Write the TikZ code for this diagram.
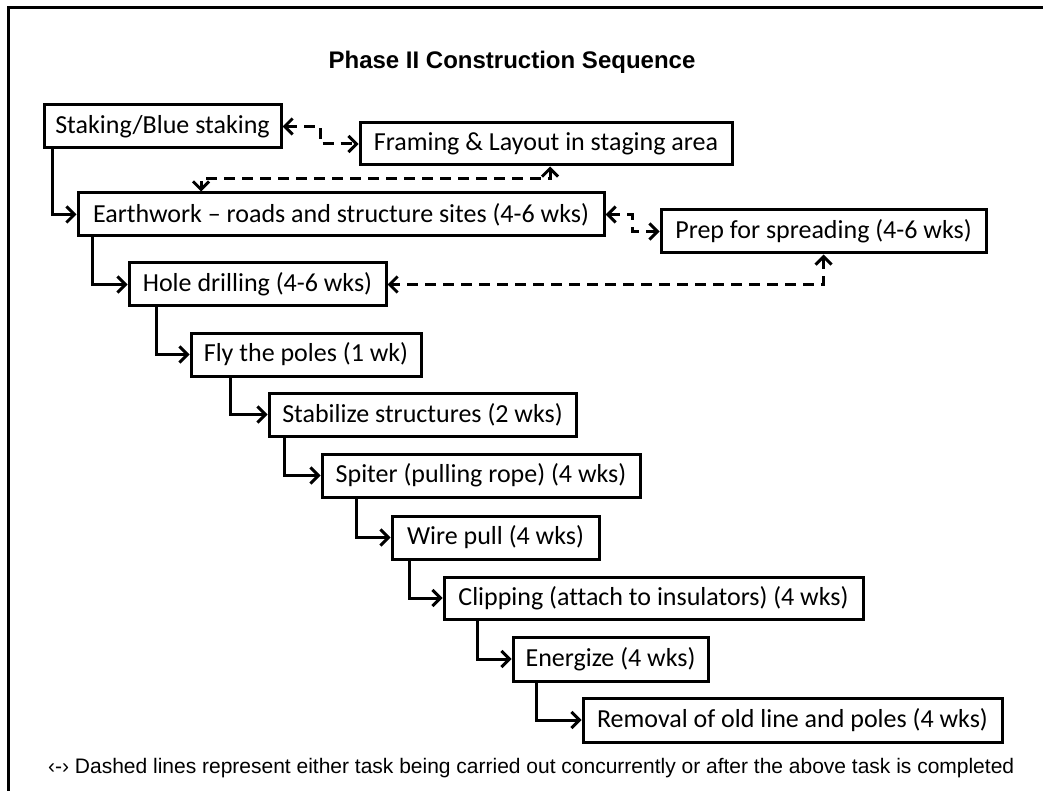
\documentclass[tikz,border=0pt]{standalone}
\usepackage{fontspec}
\setmainfont{Carlito}[Ligatures=NoCommon]
\newfontfamily\arialfont{Liberation Sans}
\usetikzlibrary{arrows.meta,calc}
\begin{document}
\begin{tikzpicture}[x=1pt,y=-1pt,
  box/.style={draw,line width=3pt,inner sep=0pt,font=\fontsize{26}{30}\selectfont},
  conn/.style={line width=3pt,-{Straight Barb[length=8pt,width=16pt]}},
  dconn/.style={line width=3pt,dash pattern=on 11pt off 7pt,{Straight Barb[length=8pt,width=16pt]}-{Straight Barb[length=8pt,width=16pt]}}]
\useasboundingbox (0,0) rectangle (1043,791);
\fill[white] (0,0) rectangle (1043,791);
\draw[line width=3pt] (1043,8) -- (8,8) -- (8,791);

\node[font=\arialfont\bfseries\fontsize{24}{28}\selectfont] (title) at (512,62) {Phase II Construction Sequence};

\node[box,minimum width=237pt,minimum height=43pt] (stak) at (162.5,126.5) {Staking/Blue staking};
\node[box,minimum width=372pt,minimum height=42pt] (fram) at (546,144) {Framing \& Layout in staging area};
\node[box,minimum width=526pt,minimum height=43pt] (earth) at (341,214.5) {Earthwork -- roads and structure sites (4-6 wks)};
\node[box,minimum width=325pt,minimum height=43pt] (prep) at (823.5,231.5) {Prep for spreading (4-6 wks)};
\node[box,minimum width=257pt,minimum height=43pt] (hole) at (257.5,284.5) {Hole drilling (4-6 wks)};
\node[box,minimum width=230pt,minimum height=43pt] (fly) at (306,354.5) {Fly the poles (1 wk)};
\node[box,minimum width=307pt,minimum height=43pt] (stab) at (422.5,414.5) {Stabilize structures (2 wks)};
\node[box,minimum width=318pt,minimum height=43pt] (spit) at (481,475.5) {Spiter (pulling rope) (4 wks)};
\node[box,minimum width=207pt,minimum height=43pt] (wire) at (495.5,537.5) {Wire pull (4 wks)};
\node[box,minimum width=419pt,minimum height=42pt] (clip) at (653.5,598) {Clipping (attach to insulators) (4 wks)};
\node[box,minimum width=195pt,minimum height=44pt] (ener) at (610.5,659) {Energize (4 wks)};
\node[box,minimum width=419pt,minimum height=44pt] (remo) at (792.5,720) {Removal of old line and poles (4 wks)};

\draw[conn] ([xshift=10pt]stak.south west) |- (earth.west);
\draw[conn] ([xshift=16pt]earth.south west) |- (hole.west);
\draw[conn] ([xshift=29pt]hole.south west) |- (fly.west);
\draw[conn] ([xshift=41pt]fly.south west) |- (stab.west);
\draw[conn] ([xshift=17pt]stab.south west) |- (spit.west);
\draw[conn] ([xshift=36pt]spit.south west) |- (wire.west);
\draw[conn] ([xshift=19pt]wire.south west) |- (clip.west);
\draw[conn] ([xshift=35pt]clip.south west) |- (ener.west);
\draw[conn] ([xshift=25pt]ener.south west) |- (remo.west);

\draw[dconn] (stak.east) -| ($(stak.east)!0.5!(fram.west)$) |- (fram.west);
\draw[dconn] ([xshift=4pt]fram.south) |- ($(fram.south)!0.5!(earth.north)$) -| ([xshift=-140pt]earth.north);
\draw[dconn] (earth.east) -| ($(earth.east)!0.5!(prep.west)$) |- (prep.west);
\draw[dconn] (prep.south) |- (hole.east);

\node[anchor=west,inner sep=0pt,font=\arialfont\fontsize{21}{25}\selectfont] (foot) at (48,768) {\resizebox{966pt}{\height}{‹-› Dashed lines represent either task being carried out concurrently or after the above task is completed}};
\end{tikzpicture}
\end{document}
